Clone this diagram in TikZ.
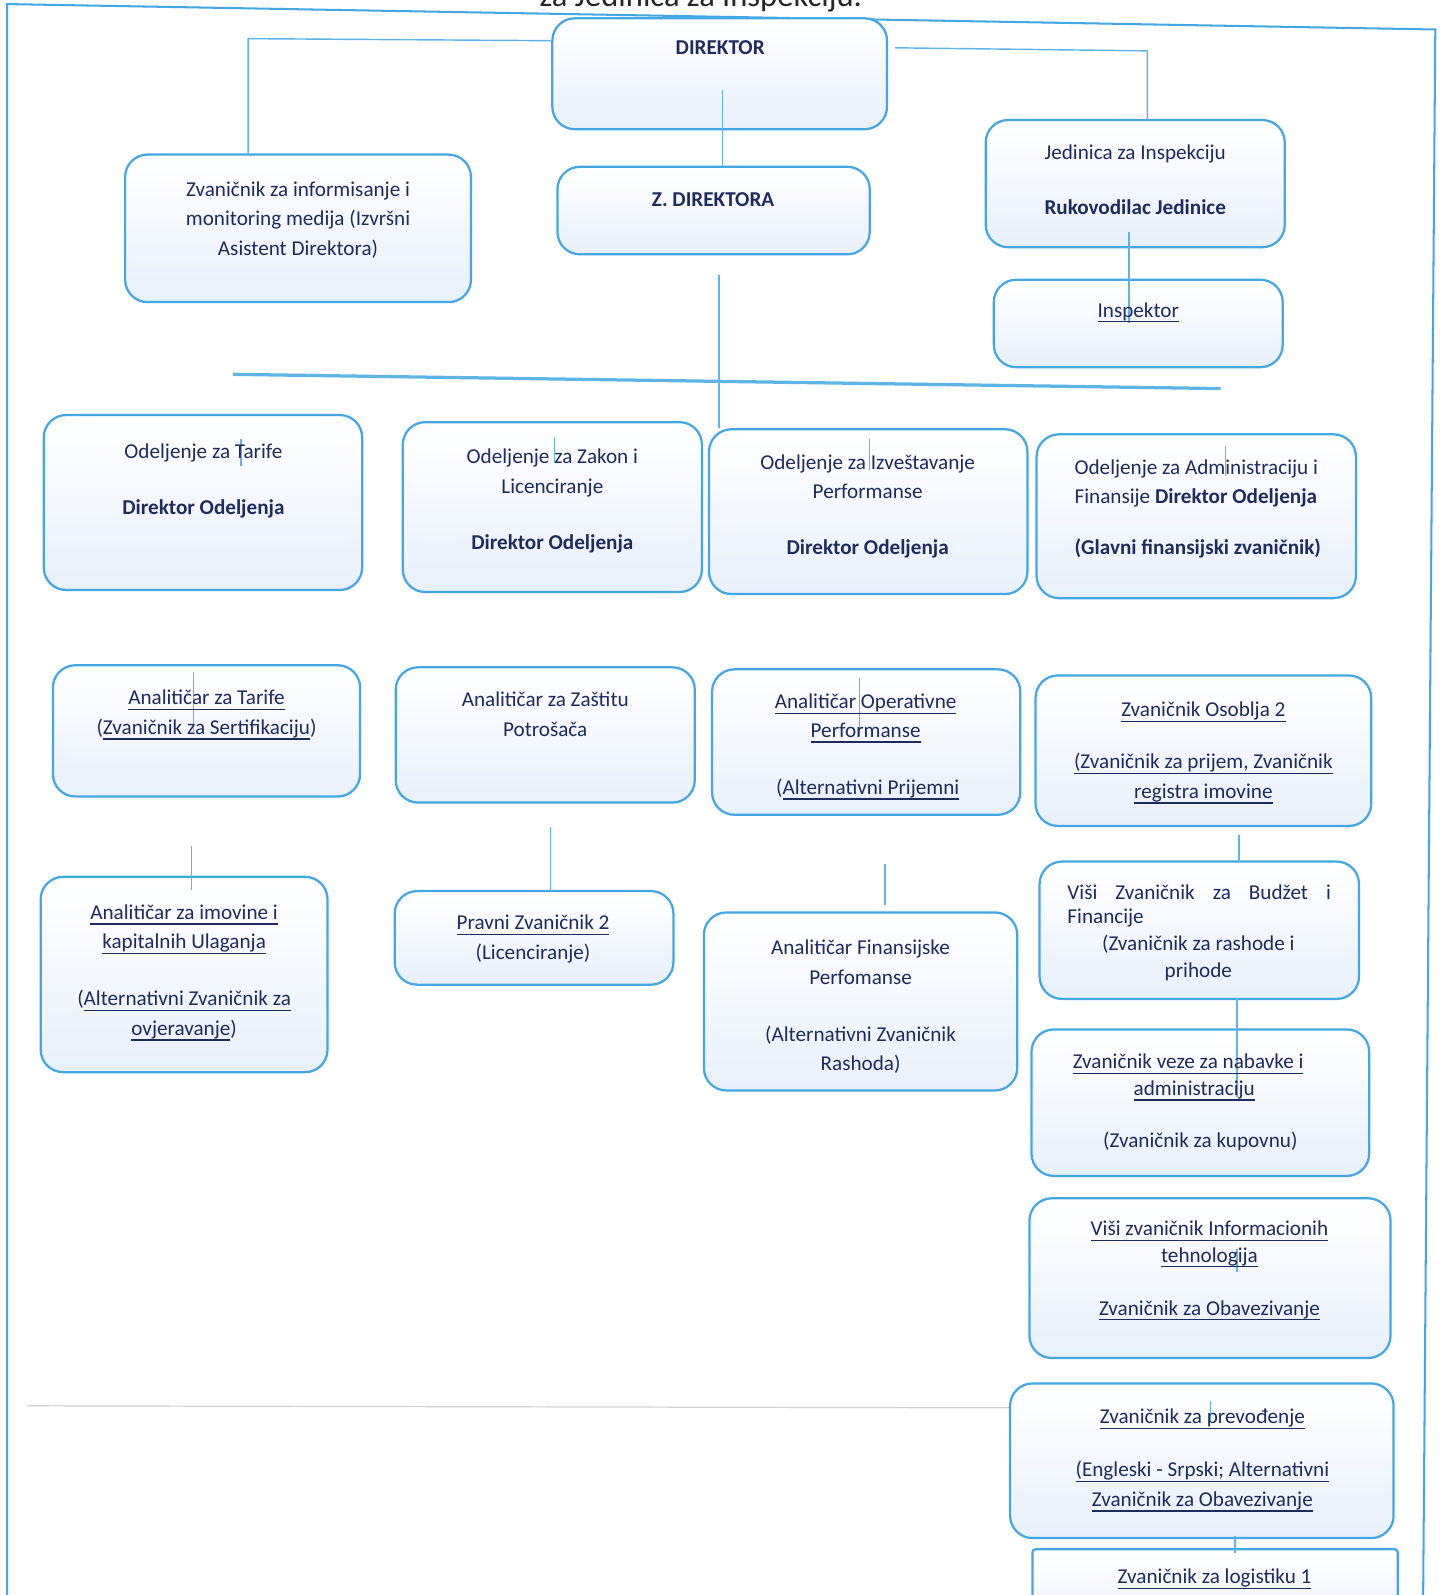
\documentclass[tikz,border=0pt]{standalone}
\usepackage{fontspec}
\setmainfont{Carlito}
\usetikzlibrary{fit}
\definecolor{bl}{RGB}{66,167,226}
\definecolor{cn}{RGB}{95,180,230}
\definecolor{nv}{RGB}{32,42,92}
\definecolor{boxbot}{RGB}{232,240,251}
\newsavebox{\ulbox}
\newcommand{\uln}[1]{\sbox{\ulbox}{#1}\rlap{\rule[-2.6pt]{\wd\ulbox}{0.6pt}}\usebox{\ulbox}}
\tikzset{
  box/.style={draw=bl, line width=1.1pt, rounded corners=11pt, top color=white, bottom color=boxbot, inner sep=0pt},
  sqbox/.style={draw=bl, line width=1.1pt, rounded corners=1.5pt, top color=white, bottom color=boxbot, inner sep=0pt},
  txt/.style={anchor=mid, inner sep=0pt, yshift=-1.5pt, text=nv, font=\fontsize{10.4}{12.5}\selectfont},
  txtl/.style={anchor=mid west, inner sep=0pt, yshift=-1.5pt, text=nv, font=\fontsize{10.4}{12.5}\selectfont},
  conn/.style={draw=cn, line width=0.7pt},
  bus/.style={draw=cn, line width=1.6pt},
  frame/.style={draw=bl, line width=1pt},
}
\newcommand{\tx}[4]{\node[txt] (#1) at (#2,#3) {#4};}
\newcommand{\txl}[4]{\node[txtl] (#1) at (#2,#3) {#4};}
\begin{document}
\begin{tikzpicture}[x=0.5pt,y=-0.5pt]
\useasboundingbox (0,0) rectangle (1419,1568);
\clip (0,0) rectangle (1419,1568);
\fill[white] (0,0) rectangle (1419,1568);

% page frame and header fragment (cut off at the top edge, as in the scan)
\node[anchor=base west, inner sep=0pt, text=black!85, font=\fontsize{16}{18}\selectfont] (head) at (530,6) {za Jedinica za Inspekciju.};
\draw[frame] (7,1575) -- (7,4) -- (1411,29) -- (1399,1575);
\draw[gray!35, line width=0.6pt] (27,1382) -- (993,1384);

% boxes
\node[box, fit={(543,18) (872,127)}] (dir) {};
\node[box, fit={(123,152) (463,297)}] (info) {};
\node[box, fit={(548,164) (855,250)}] (zd) {};
\node[box, fit={(969,118) (1263,243)}] (jed) {};
\node[box, fit={(977,275) (1261,361)}] (insp) {};
\node[box, fit={(43,408) (356,580)}] (otar) {};
\node[box, fit={(396,415) (690,582)}] (ozak) {};
\node[box, fit={(697,422) (1010,584)}] (oizv) {};
\node[box, fit={(1019,427) (1333,588)}] (oadm) {};
\node[box, fit={(52,654) (354,783)}] (atar) {};
\node[box, fit={(389,656) (683,789)}] (azas) {};
\node[box, fit={(700,658) (1003,801)}] (aop) {};
\node[box, fit={(1018,664) (1348,812)}] (zos) {};
\node[box, fit={(40,862) (322,1054)}] (aimo) {};
\node[box, fit={(388,876) (662,968)}] (prav) {};
\node[box, fit={(692,897) (1000,1072)}] (afin) {};
\node[box, fit={(1022,847) (1336,982)}] (vbud) {};
\node[box, fit={(1014,1012) (1346,1156)}] (zvez) {};
\node[box, fit={(1012,1178) (1367,1335)}] (vit) {};
\node[box, fit={(993,1360) (1370,1512)}] (zpre) {};
\node[sqbox, fit={(1015,1523) (1374,1610)}] (zlog) {};

% connectors
\draw[conn] (dir.west |- 0,40) -- (244,38) -- (info.north -| 244,0);
\draw[conn] (880,47) -- (1128,50) -- (jed.north -| 1128,0);
\draw[conn] (710,88) -- (zd.north -| 710,0);
\draw[conn] (1110,228) -- (insp.center -| 1110,0);
\draw[conn] (707,270) -- (oizv.north -| 707,0);
\draw[bus] (229,368) -- (1200,382);
% short marks
\foreach \x/\a/\b in {237/432/458, 545/430/455, 855/432/462, 1205/438/468,
  190/661/720, 845/667/724, 188/832/875, 541/813/876, 870/849/890,
  1218/821/847, 1216/982/1078, 1216/1228/1250, 1190/1377/1398, 1214/1510/1527}
  \draw[conn] (\x,\a) -- (\x,\b);

% texts
\tx{t1}{708}{46}{\textbf{DIREKTOR}}
\tx{t2}{293}{185}{Zvaničnik za informisanje i}
\tx{t3}{293}{214}{monitoring medija (Izvršni}
\tx{t4}{293}{243}{Asistent Direktora)}
\tx{t5}{701}{195}{\textbf{Z. DIREKTORA}}
\tx{t6}{1116}{149}{Jedinica za Inspekciju}
\tx{t7}{1116}{203}{\textbf{Rukovodilac Jedinice}}
\tx{t8}{1119}{304}{\uln{Inspektor}}
\tx{t9}{200}{443}{Odeljenje za Tarife}
\tx{t10}{200}{498}{\textbf{Direktor Odeljenja}}
\tx{t11}{543}{448}{Odeljenje za Zakon i}
\tx{t12}{543}{477}{Licenciranje}
\tx{t13}{543}{532}{\textbf{Direktor Odeljenja}}
\tx{t14}{853}{454}{Odeljenje za Izveštavanje}
\tx{t15}{853}{482}{Performanse}
\tx{t16}{853}{537}{\textbf{Direktor Odeljenja}}
\txl{t17}{1056}{459}{Odeljenje za Administraciju i}
\txl{t18}{1056}{487}{Finansije \textbf{Direktor Odeljenja}}
\txl{t19}{1056}{537}{\textbf{(Glavni finansijski zvaničnik)}}
\tx{t20}{203}{685}{\uln{Analitičar za Tarife}}
\tx{t21}{203}{714}{(\uln{Zvaničnik za Sertifikaciju})}
\tx{t22}{536}{687}{Analitičar za Zaštitu}
\tx{t23}{536}{716}{Potrošača}
\tx{t24}{851}{689}{\uln{Analitičar Operativne}}
\tx{t25}{851}{717}{\uln{Performanse}}
\tx{t26}{853}{773}{(\uln{Alternativni Prijemni}}
\tx{t27}{1183}{697}{\uln{Zvaničnik Osoblja 2}}
\tx{t28}{1183}{748}{\uln{(Zvaničnik za prijem, Zvaničnik}}
\tx{t29}{1183}{777}{\uln{registra imovine}}
\tx{t30}{181}{896}{\uln{Analitičar za imovine i}}
\tx{t31}{181}{925}{\uln{kapitalnih Ulaganja}}
\tx{t32}{181}{981}{(\uln{Alternativni Zvaničnik za}}
\tx{t33}{181}{1010}{\uln{ovjeravanje})}
\tx{t34}{524}{906}{\uln{Pravni Zvaničnik 2}}
\tx{t35}{524}{935}{(Licenciranje)}
\tx{t36}{846}{931}{Analitičar Finansijske}
\tx{t37}{846}{960}{Perfomanse}
\tx{t38}{846}{1016}{(Alternativni Zvaničnik}
\tx{t39}{846}{1045}{Rashoda)}
\txl{t40}{1049}{876}{\makebox[129.5pt][s]{Viši Zvaničnik za Budžet i}}
\txl{t41}{1049}{900}{Financije}
\tx{t42}{1178}{927}{(Zvaničnik za rashode i}
\tx{t43}{1178}{953}{prihode}
\tx{t44}{1168}{1043}{\uln{Zvaničnik veze za nabavke i}}
\tx{t45}{1174}{1069}{\uln{administraciju}}
\tx{t46}{1180}{1120}{(Zvaničnik za kupovnu)}
\tx{t47}{1189}{1207}{\uln{Viši zvaničnik Informacionih}}
\tx{t48}{1189}{1233}{\uln{tehnologija}}
\tx{t49}{1189}{1285}{\uln{Zvaničnik za Obavezivanje}}
\tx{t50}{1182}{1392}{\uln{Zvaničnik za prevođenje}}
\tx{t51}{1182}{1444}{\uln{(Engleski - Srpski; Alternativni}}
\tx{t52}{1182}{1473}{\uln{Zvaničnik za Obavezivanje}}
\tx{t53}{1194}{1549}{\uln{Zvaničnik za logistiku 1}}
\end{tikzpicture}
\end{document}
